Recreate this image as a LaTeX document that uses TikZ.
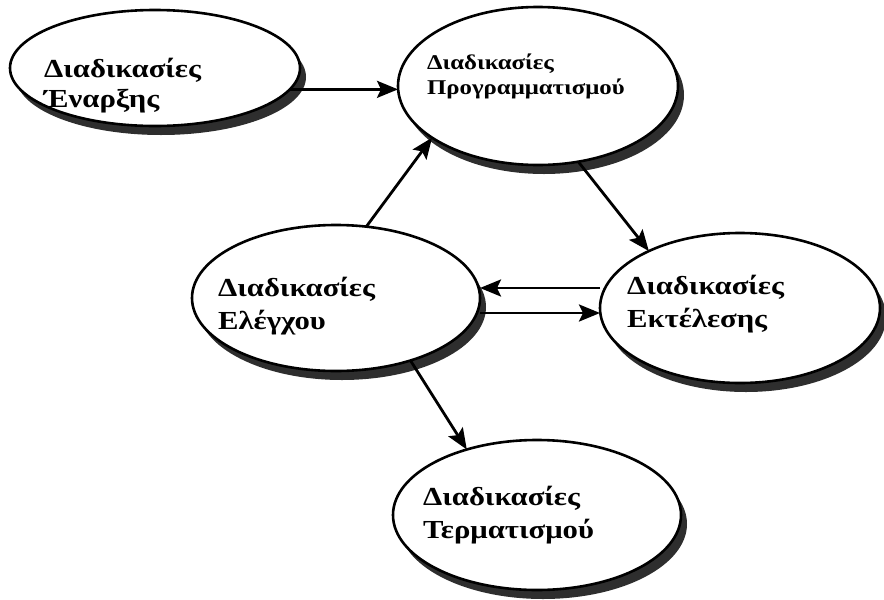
\documentclass[tikz,border=0pt]{standalone}
\usepackage{fontspec}
\setmainfont{Liberation Serif}[FakeStretch=1.18]
\usetikzlibrary{arrows.meta,shapes.geometric}
\begin{document}
\begin{tikzpicture}[x=1pt,y=-1pt,
  proc/.style={ellipse, draw=black, line width=2.6pt, fill=white, inner sep=0pt, outer sep=0pt,
    preaction={draw=none, fill=black!82, transform canvas={xshift=6pt,yshift=-9pt}}},
  lbl/.style={anchor=west, align=left, inner sep=0pt, font=\bfseries\fontsize{26}{33}\selectfont},
  lblsmall/.style={anchor=west, align=left, inner sep=0pt, font=\bfseries\fontsize{21}{25}\selectfont},
  arr/.style={line width=2.8pt, -{Stealth[length=21pt,width=17pt,inset=4pt]}}]
\useasboundingbox (0,0) rectangle (884,600);
\node[proc, minimum width=290pt, minimum height=116pt] (e1) at (155,68) {};
\node[proc, minimum width=280pt, minimum height=158pt] (e2) at (538,86) {};
\node[proc, minimum width=288pt, minimum height=146pt] (e3) at (336,298) {};
\node[proc, minimum width=280pt, minimum height=150pt] (e4) at (740,308) {};
\node[proc, minimum width=288pt, minimum height=150pt] (e5) at (537,515) {};
\node[lbl, font=\bfseries\fontsize{26}{30}\selectfont] (t1) at (44,86) {Διαδικασίες\\Έναρξης};
\node[lblsmall] (t2) at (427,76) {Διαδικασίες\\Προγραμματισμού};
\node[lbl] (t3) at (218,306) {Διαδικασίες\\Ελέγχου};
\node[lbl] (t4) at (627,304) {Διαδικασίες\\Εκτέλεσης};
\node[lbl] (t5) at (423,515) {Διαδικασίες\\Τερματισμού};
\draw[arr] (e1.-9) -- (e1.-9 -| e2.west);
\draw[arr] (e3.67) -- (e2.206);
\draw[arr] (e2.-62) -- (e4.148);
\draw[arr] ([yshift=-15pt]e3.east) -- ([yshift=-15pt]e3.east -| e4.west);
\draw[arr] ([yshift=10pt]e3.east -| e4.west) -- ([yshift=10pt]e3.east);
\draw[arr] (e3.-40) -- (e5.137);
\end{tikzpicture}
\end{document}
